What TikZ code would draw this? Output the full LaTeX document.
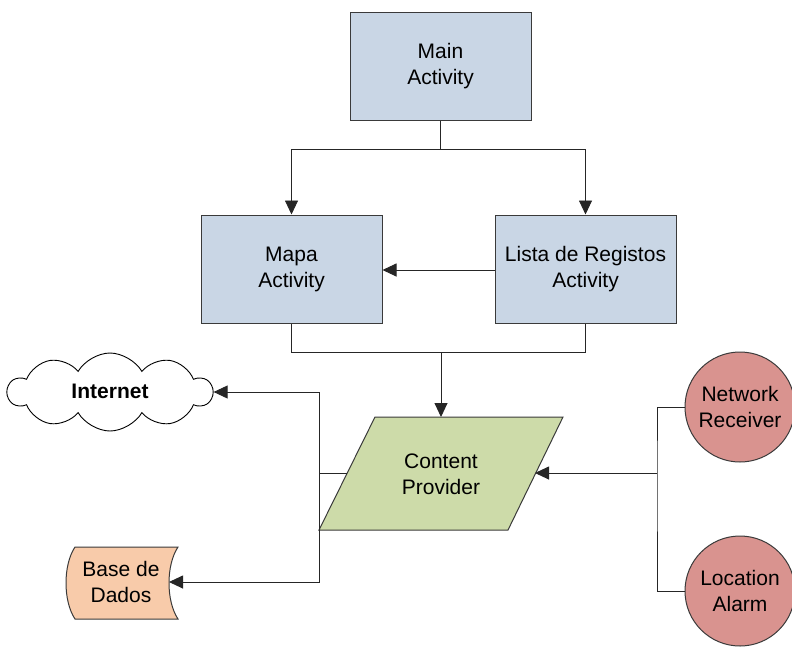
\documentclass[tikz,border=0pt]{standalone}
\usepackage{fontspec}
\setmainfont{Liberation Sans}
\usetikzlibrary{arrows.meta,shapes.symbols}
\definecolor{actfill}{HTML}{C9D6E5}
\definecolor{cpfill}{HTML}{CDDBA9}
\definecolor{dbfill}{HTML}{F8CBAA}
\definecolor{rcvfill}{HTML}{D9938F}
\definecolor{edge}{HTML}{3A3A3A}
\tikzset{
  every node/.style={font=\fontsize{21}{26}\selectfont},
  actbox/.style={draw=edge, line width=1pt, fill=actfill, minimum width=181pt,
                 minimum height=108pt, align=center, inner sep=0pt},
  rcv/.style={draw=edge, line width=1pt, fill=rcvfill, circle, minimum size=110pt,
              align=center, inner sep=0pt},
  link/.style={draw=black!85, line width=0.9pt},
  arrow/.style={link, -{Triangle[length=14pt,width=13pt]}},
  label/.style={align=center, inner sep=0pt}
}
\begin{document}
\begin{tikzpicture}[x=1pt, y=-1pt]
  \useasboundingbox (0,0) rectangle (792,646);
  \clip (0,0) rectangle (792,646);

  % activities
  \node[actbox] (main) at (440.5,66) {Main\\Activity};
  \node[actbox] (mapa) at (291.5,269) {Mapa\\Activity};
  \node[actbox] (lista) at (585.5,269) {Lista de Registos\\Activity};

  % content provider (parallelogram)
  \coordinate (cp-tl) at (375,417);
  \coordinate (cp-tr) at (563,417);
  \coordinate (cp-br) at (508,530);
  \coordinate (cp-bl) at (319,530);
  \filldraw[draw=edge, line width=1pt, fill=cpfill]
    (cp-tl) -- (cp-tr) -- (cp-br) -- (cp-bl) -- cycle;
  \node[label] (cp) at (441,474) {Content\\Provider};
  \coordinate (cp-top) at (441,417);
  \coordinate (cp-right) at (535,473);
  \coordinate (cp-left) at (347,473);

  % internet cloud
  \node[cloud, draw=black, line width=0.9pt, fill=white, cloud puffs=10,
        cloud puff arc=120, aspect=2.6, minimum width=204pt, minimum height=78pt,
        inner sep=0pt] (cloud) at (110,392) {};
  \node[label, font=\fontsize{21}{26}\selectfont\bfseries] (net-label) at (110,391) {Internet};

  % database (stored data shape)
  \filldraw[draw=edge, line width=1pt, fill=dbfill]
    (75,547) -- (178,547) .. controls (166,565) and (166,601) .. (178,619)
    -- (75,619) .. controls (63,601) and (63,565) .. (75,547) -- cycle;
  \node[label] (db) at (121,582) {Base de\\Dados};
  \coordinate (db-east) at (169,582);

  % receivers
  \node[rcv] (netrcv) at (740,407) {Network\\Receiver};
  \node[rcv] (localarm) at (740,591) {Location\\Alarm};

  % activity flow
  \draw[arrow] (main.south) -- ++(0,29) -| (mapa.north);
  \draw[arrow] (main.south) -- ++(0,29) -| (lista.north);
  \draw[arrow] (lista.west |- 0,270) -- (mapa.east |- 0,270);
  \draw[link] (mapa.south) -- ++(0,29) -| (lista.south);
  \coordinate (mjoin) at (441,352);
  \draw[arrow] (mjoin) -- (cp-top);

  % provider outputs
  \coordinate (lbus) at (319,473);
  \draw[link] (cp-left) -- (lbus);
  \draw[arrow] (lbus) |- (cloud.east);
  \draw[arrow] (lbus) |- (db-east);

  % receiver inputs
  \coordinate (rbus) at (657,473);
  \draw[link] (netrcv.west) -| (rbus) |- (localarm.west);
  \draw[arrow] (rbus) -- (cp-right);
\end{tikzpicture}
\end{document}
